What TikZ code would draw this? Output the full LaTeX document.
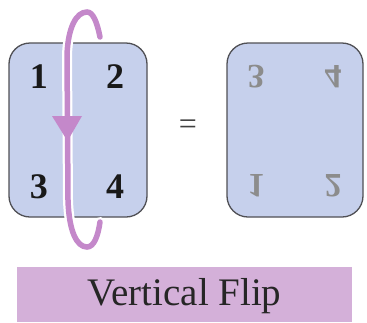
\documentclass[tikz,border=0pt]{standalone}
\usepackage{fontspec}
\setmainfont{Liberation Serif}
\usepackage{graphicx}
\definecolor{panelfill}{RGB}{198,208,236}
\definecolor{panelline}{RGB}{80,80,85}
\definecolor{flipcol}{RGB}{196,136,202}
\definecolor{labelfill}{RGB}{212,176,217}
\definecolor{ghost}{RGB}{140,140,140}
\tikzset{
  panel/.style={draw=panelline, line width=1.3pt, fill=panelfill, rounded corners=21pt},
  digit/.style={inner sep=0pt, font=\fontsize{36}{36}\selectfont\bfseries, text=black!90},
  ghostdigit/.style={inner sep=0pt, font=\fontsize{34}{34}\selectfont\bfseries, text=ghost},
  halo/.style={draw=white, line width=10pt, line cap=round},
  fliparc/.style={draw=flipcol, line width=5.5pt, line cap=round},
}
\begin{document}
\begin{tikzpicture}[x=1pt,y=-1pt]
\useasboundingbox (0,0) rectangle (367,322);
% panels
\path[panel] (9,43) rectangle (147,217);
\path[panel] (227,43) rectangle (363,217);
% left digits
\node[digit] (d1) at (39,77) {1};
\node[digit] (d2) at (115,77) {2};
\node[digit] (d3) at (39,187) {3};
\node[digit] (d4) at (115,187) {4};
% right digits (vertically flipped)
\node[ghostdigit] (r3) at (256,77) {\scalebox{1}[-1]{3}};
\node[ghostdigit] (r4) at (333,77) {\scalebox{1}[-1]{4}};
\node[ghostdigit] (r1) at (256,186) {\scalebox{1}[-1]{1}};
\node[ghostdigit] (r2) at (333,186) {\scalebox{1}[-1]{2}};
% equal sign
\node[inner sep=0pt, font=\fontsize{32}{32}\selectfont, text=black!75] (eq) at (188,127) {=};
% flip arc
\coordinate (s) at (100,37);
\coordinate (t) at (87,12);
\coordinate (l1) at (67,55);
\coordinate (l2) at (68,200);
\coordinate (b) at (87,247);
\coordinate (e) at (100,222);
\path[halo] (s) .. controls (97,22) and (93,12) .. (t) .. controls (76,12) and (68,28) .. (l1) -- (l2) .. controls (69,232) and (77,247) .. (b) .. controls (94,247) and (98,236) .. (e);
\path[fliparc] (s) .. controls (97,22) and (93,12) .. (t) .. controls (76,12) and (68,28) .. (l1) -- (l2) .. controls (69,232) and (77,247) .. (b) .. controls (94,247) and (98,236) .. (e);
\fill[flipcol] (52,116) -- (82,116) -- (67.5,141) -- cycle;
% label
\path[fill=labelfill] (17,267) rectangle (352,322);
\node[inner sep=0pt, font=\fontsize{39}{39}\selectfont, text=black!85] (lab) at (184.5,296) {Vertical Flip};
\end{tikzpicture}
\end{document}
